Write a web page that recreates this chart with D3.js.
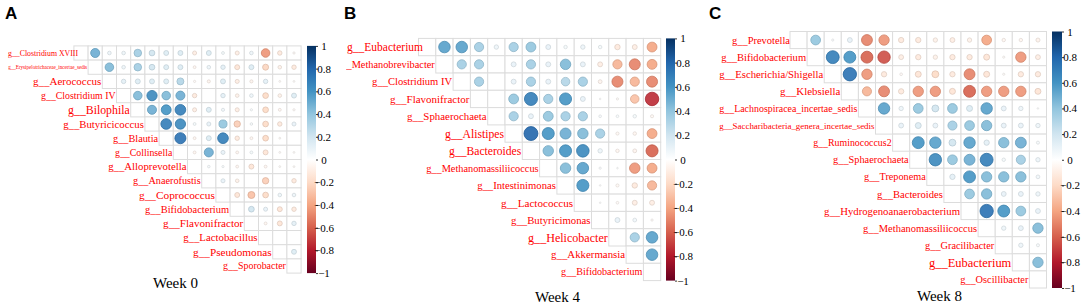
<!DOCTYPE html>
<html>
<head>
<meta charset="utf-8">
<script src="https://cdn.jsdelivr.net/npm/d3@7"></script>
<style>
  body { margin: 0; background: #fff; }
  svg { display: block; }
</style>
</head>
<body>
<svg id="chart" width="1084" height="307"></svg>
<script>
// ---- data -----------------------------------------------------------
const taxaA = ["g__Clostridium XVIII", "g__Erysipelotrichaceae_incertae_sedis", "g__Aerococcus", "g__Clostridium IV",
  "g__Bilophila", "g__Butyricicoccus", "g__Blautia", "g__Collinsella", "g__Alloprevotella", "g__Anaerofustis",
  "g__Coprococcus", "g__Bifidobacterium", "g__Flavonifractor", "g__Lactobacillus", "g__Pseudomonas", "g__Sporobacter"];

const taxaB = ["g__Eubacterium", "g__Methanobrevibacter", "g__Clostridium IV", "g__Flavonifractor", "g__Sphaerochaeta",
  "g__Alistipes", "g__Bacteroides", "g__Methanomassiliicoccus", "g__Intestinimonas", "g__Lactococcus",
  "g__Butyricimonas", "g__Helicobacter", "g__Akkermansia", "g__Bifidobacterium"];

const taxaC = ["g__Prevotella", "g__Bifidobacterium", "g__Escherichia/Shigella", "g__Klebsiella",
  "g__Lachnospiracea_incertae_sedis", "g__Saccharibacteria_genera_incertae_sedis", "g__Ruminococcus2",
  "g__Sphaerochaeta", "g__Treponema", "g__Bacteroides", "g__Hydrogenoanaerobacterium", "g__Methanomassiliicoccus",
  "g__Gracilibacter", "g__Eubacterium", "g__Oscillibacter"];

// upper triangle, row i holds the correlations with taxa i+1 .. n (null = blank cell)
const corrA = [
  [0.5, 0.08, 0.08, 0.35, 0.2, 0.15, 0.15, -0.1, 0.15, 0.05, -0.1, 0.08, -0.45, -0.12, -0.03],
  [0.45, 0.08, 0.35, 0.2, 0.15, 0.15, -0.05, 0.08, 0.12, -0.15, 0.15, -0.22, -0.08, -0.12],
  [0.12, 0.15, 0.15, 0.15, 0.3, -0.03, -0.06, 0.15, -0.1, -0.06, 0.12, -0.02, -0.02],
  [0.45, 0.65, 0.45, 0.5, -0.12, null, 0.12, -0.08, 0.08, -0.2, -0.08, 0.15],
  [0.5, 0.6, 0.7, -0.1, 0.15, 0.06, -0.1, 0.03, -0.2, -0.05, -0.03],
  [0.7, 0.65, 0.05, 0.1, 0.4, -0.25, 0.04, -0.2, -0.12, 0.1],
  [0.75, -0.05, 0.15, 0.7, -0.12, -0.05, -0.2, -0.02, null],
  [-0.05, 0.5, 0.1, -0.05, 0.05, -0.15, -0.02, -0.02],
  [0.04, 0.03, -0.05, -0.15, -0.05, -0.02, -0.02],
  [0.1, -0.08, null, -0.25, null, -0.12],
  [-0.15, -0.3, -0.2, 0.08, 0.08],
  [0.2, 0.1, -0.15, -0.12],
  [-0.05, -0.15, 0.12],
  [null, null],
  [0.15],
  []
];

const corrB = [
  [0.55, 0.55, 0.35, 0.08, 0.35, 0.4, 0.1, 0.05, 0.08, 0.05, -0.12, -0.1, -0.4],
  [0.35, 0.35, null, 0.1, 0.35, 0.1, 0.45, 0.1, -0.1, -0.35, -0.5, -0.4],
  [0.35, null, 0.1, 0.35, 0.1, 0.3, 0.35, -0.06, -0.5, -0.35, -0.5],
  [null, 0.4, 0.7, 0.35, 0.6, 0.1, 0.01, -0.02, -0.3, -0.75],
  [0.35, 0.1, 0.4, 0.35, 0.35, 0.03, 0.03, 0.05, -0.04],
  [0.8, 0.6, 0.5, 0.45, 0.35, -0.04, -0.05, -0.4],
  [0.45, 0.6, 0.65, 0.08, -0.05, -0.06, -0.6],
  [0.45, 0.55, 0.02, 0.01, -0.45, -0.4],
  [0.6, 0.01, -0.04, -0.12, -0.35],
  [0.01, -0.03, -0.1, -0.1],
  [0.1, 0.06, -0.02],
  [0.35, 0.55],
  [0.55],
  []
];

const corrC = [
  [0.4, 0.02, 0.1, -0.5, -0.45, -0.12, -0.12, -0.08, -0.1, -0.08, -0.4, -0.05, -0.05, -0.07],
  [0.7, 0.6, -0.6, -0.65, -0.1, -0.12, -0.08, -0.12, -0.12, -0.15, -0.02, -0.45, -0.1],
  [0.75, -0.45, -0.12, -0.03, -0.15, -0.2, -0.12, -0.5, -0.15, -0.02, -0.12, -0.12],
  [-0.35, -0.5, -0.12, -0.45, -0.45, -0.15, -0.6, -0.45, -0.45, -0.45, -0.15],
  [0.55, 0.08, 0.4, 0.2, 0.4, 0.15, 0.55, 0.1, 0.08, 0.01],
  [0.1, 0.15, 0.1, 0.35, 0.4, 0.45, 0.1, 0.1, 0.08],
  [0.6, 0.55, 0.2, 0.55, 0.12, 0.45, 0.5, 0.04],
  [0.65, 0.4, 0.5, 0.7, 0.05, 0.35, 0.08],
  [0.12, 0.6, 0.45, 0.45, 0.45, 0.06],
  [0.4, 0.45, 0.1, 0.1, 0.08],
  [0.75, 0.6, 0.4, 0.1],
  [0.08, 0.1, 0.45],
  [0.08, 0.04],
  [0.45],
  []
];

const legendTicks = [1, 0.8, 0.6, 0.4, 0.2, 0, -0.2, -0.4, -0.6, -0.8, -1];
const weekLabels = ["Week 0", "Week 4", "Week 8"];
const panelLetters = ["A", "B", "C"];

// corrplot RdBu palette, -1 .. 1
const rdbu = ["#67001F", "#B2182B", "#D6604D", "#F4A582", "#FDDBC7", "#FFFFFF",
  "#D1E5F0", "#92C5DE", "#4393C3", "#2166AC", "#053061"];

// ---- layout (where each label text starts / ends, grid geometry) ----
const startA = [8, 8, 33, 41, 68, 63, 113, 115, 108, 133, 139, 145, 163, 183, 193, 223];
const startB = [347, 336, 372, 390, 407, 445, 449, 426, 477, 501, 511, 528, 551, 561];
const startC = [732, 721, 719, 780, 719, 719, 813, 833, 864, 877, 824, 863, 925, 929, 960];
// first row label runs a little into its (empty) diagonal cell
const firstEndA = 78, firstEndB = 423, firstEndC = 790;

const panels = [
  { taxa: taxaA, corr: corrA, starts: startA, firstEnd: firstEndA, left: 73.9, top: 45.9, cell: 14.2,
    barX: 307, barW: 9, letterX: 5, weekX: 153, weekY: 288 },
  { taxa: taxaB, corr: corrB, starts: startB, firstEnd: firstEndB, left: 418.5, top: 38.4, cell: 17.3,
    barX: 666, barW: 9, letterX: 344, weekX: 535, weekY: 302, clipX: 346 },
  { taxa: taxaC, corr: corrC, starts: startC, firstEnd: firstEndC, left: 790, top: 31.5, cell: 17.1,
    barX: 1052, barW: 10, letterX: 709, weekX: 917, weekY: 301 }
];

const serif = "'Liberation Serif', 'Times New Roman', serif";
const svg = d3.select("#chart");

const color = d3.scaleLinear()
  .domain(rdbu.map((c, k) => -1 + k * 0.2))
  .range(rdbu)
  .clamp(true);

const defs = svg.append("defs");
const grad = defs.append("linearGradient").attr("id", "rdbuGrad")
  .attr("x1", 0).attr("y1", 0).attr("x2", 0).attr("y2", 1);
grad.selectAll("stop").data(rdbu.slice().reverse()).join("stop")
  .attr("offset", (d, k) => k / 10)
  .attr("stop-color", d => d);

defs.append("clipPath").attr("id", "clipB")
  .append("rect").attr("x", panels[1].clipX).attr("y", 0).attr("width", 400).attr("height", 307);

panels.forEach((p, pi) => {
  const n = p.taxa.length;
  const g = svg.append("g");
  const x = d3.scaleBand().domain(d3.range(n)).range([p.left, p.left + n * p.cell]);
  const y = d3.scaleBand().domain(d3.range(n)).range([p.top, p.top + n * p.cell]);
  const r = d3.scaleSqrt().domain([0, 1]).range([0, p.cell * 0.45]);

  const cells = [];
  p.corr.forEach((row, i) => {
    cells.push({ i: i, j: i, v: null });
    row.forEach((v, k) => cells.push({ i: i, j: i + k + 1, v: v }));
  });

  // grid
  g.append("g").selectAll("rect").data(cells).join("rect")
    .attr("x", d => x(d.j))
    .attr("y", d => y(d.i))
    .attr("width", x.bandwidth())
    .attr("height", y.bandwidth())
    .attr("fill", "#fff")
    .attr("stroke", "#dcdcdc")
    .attr("stroke-width", 1);

  // circles
  g.append("g").selectAll("circle").data(cells.filter(d => d.v != null && d.v !== 0)).join("circle")
    .attr("cx", d => x(d.j) + x.bandwidth() / 2)
    .attr("cy", d => y(d.i) + y.bandwidth() / 2)
    .attr("r", d => r(Math.abs(d.v)))
    .attr("fill", d => color(d.v))
    .attr("fill-opacity", 0.9)
    .attr("stroke", d => d3.color(color(d.v)).darker(0.35))
    .attr("stroke-width", 0.8);

  // row labels, right aligned against the diagonal cell
  const endX = i => (i === 0 ? p.firstEnd : x(i) - 1);
  const labels = g.append("g")
    .attr("clip-path", p.clipX ? "url(#clipB)" : null)
    .selectAll("text").data(p.taxa).join("text")
    .attr("x", (d, i) => endX(i))
    .attr("y", (d, i) => y(i) + y.bandwidth() / 2)
    .attr("dy", "0.35em")
    .attr("text-anchor", "end")
    .attr("fill", "#ff0000")
    .style("font-family", serif)
    .style("font-size", "10px")
    .text(d => d);
  labels.each(function (d, i) {
    const w = this.getComputedTextLength();
    const target = endX(i) - p.starts[i];
    d3.select(this).style("font-size", (10 * target / w) + "px");
  });

  // colour legend
  const top = p.top, bot = p.top + n * p.cell;
  g.append("rect")
    .attr("x", p.barX).attr("y", top)
    .attr("width", p.barW).attr("height", bot - top)
    .attr("fill", "url(#rdbuGrad)");
  const ly = d3.scaleLinear().domain([-1, 1]).range([bot, top]);
  const ax = g.append("g")
    .attr("transform", `translate(${p.barX + p.barW},0)`)
    .call(d3.axisRight(ly).tickValues(legendTicks).tickSize(2).tickFormat(d3.format(".1~f")));
  ax.select(".domain").remove();
  ax.selectAll("line").attr("stroke", "#333");
  ax.selectAll("text")
    .attr("x", 8)
    .attr("text-anchor", "middle")
    .attr("fill", "#000")
    .style("font-family", serif)
    .style("font-size", "11px");

  // panel letter and week caption
  svg.append("text")
    .attr("x", p.letterX).attr("y", 19)
    .style("font-family", "'Liberation Sans', Arial, sans-serif")
    .style("font-weight", "bold")
    .style("font-size", "17px")
    .text(panelLetters[pi]);
  svg.append("text")
    .attr("x", p.weekX).attr("y", p.weekY)
    .style("font-family", serif)
    .style("font-size", "15px")
    .text(weekLabels[pi]);
});
</script>
</body>
</html>
